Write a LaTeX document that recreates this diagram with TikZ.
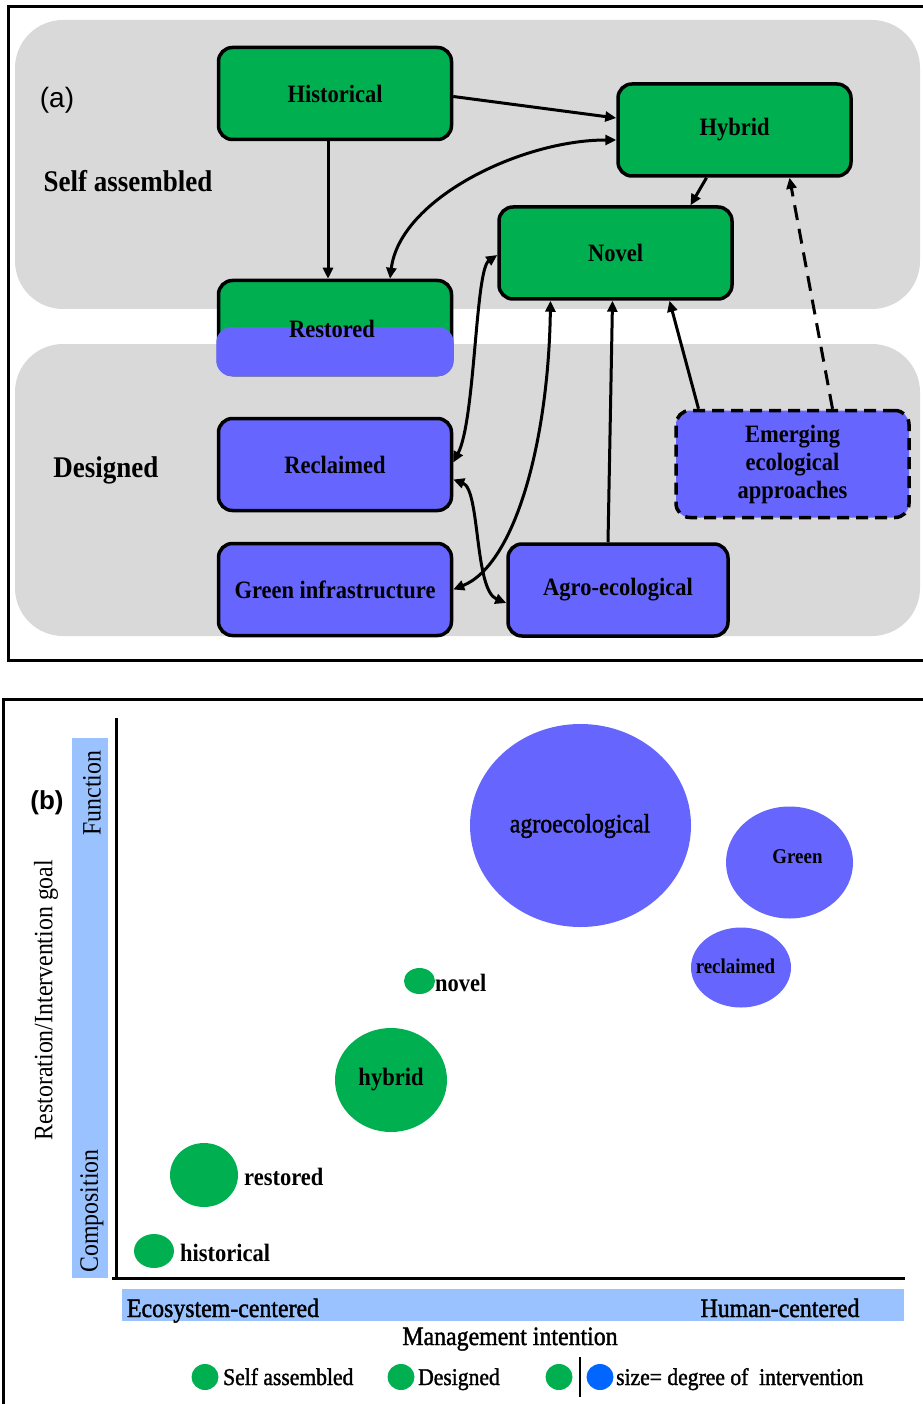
\documentclass[tikz,border=0pt]{standalone}
\usepackage{fontspec}
\setmainfont{Liberation Serif}[FakeStretch=0.9]
\newfontfamily\heavyserif{Liberation Serif}[FakeStretch=0.9, FakeBold=1.5]
\newfontfamily\panelsans{Liberation Sans}
\usetikzlibrary{arrows.meta,calc,shapes.geometric}

\definecolor{boxgreen}{HTML}{00B050}
\definecolor{boxblue}{HTML}{6666FF}
\definecolor{bandgray}{HTML}{D9D9D9}
\definecolor{axisblue}{HTML}{99C2FF}
\definecolor{keyblue}{HTML}{0066FF}

\begin{document}
\begin{tikzpicture}[x=1pt,y=-1pt,
  stagebox/.style={draw=black, line width=3.5pt, rounded corners=14pt,
    minimum width=233pt, minimum height=92pt, inner sep=0pt, align=center,
    font=\fontsize{25}{28}\selectfont\bfseries},
  greenbox/.style={stagebox, fill=boxgreen},
  bluebox/.style={stagebox, fill=boxblue},
  tip/.tip={Triangle[length=11pt,width=10pt]},
  link/.style={line width=3pt, -tip},
  twoway/.style={line width=3pt, tip-tip},
  sidelabel/.style={font=\fontsize{30}{34}\selectfont\bfseries},
  bubble/.style={ellipse, inner sep=0pt, draw=none},
  bubbletext/.style={font=\fontsize{25}{28}\selectfont\bfseries, inner sep=0pt},
  axistext/.style={font=\fontsize{26.5}{30}\selectfont, inner sep=0pt},
  scaletext/.style={font=\heavyserif\fontsize{26.5}{30}\selectfont, inner sep=0pt, anchor=base},
  keytext/.style={font=\heavyserif\fontsize{24}{28}\selectfont, inner sep=0pt, anchor=base west},
]
\useasboundingbox (0,0) rectangle (922,1404);

% ---------- panel (a): frame and background bands ----------
\draw[line width=3pt] (8,7) rectangle (940,660);
\fill[bandgray, rounded corners=48pt] (15,20) rectangle (920,309);
\fill[bandgray, rounded corners=48pt] (15,344) rectangle (920,636);

\node[font=\panelsans\fontsize{28}{31}\selectfont] (alabel) at (57,100) {(a)};
\node[sidelabel] (selflabel) at (128,181) {Self assembled};
\node[sidelabel] (designlabel) at (106,470) {Designed};

% ---------- panel (a): stages ----------
\node[greenbox] (historical) at (335,93.5) {Historical};
\node[greenbox] (hybrid) at (734.5,130) {Hybrid};
\node[greenbox] (novel) at (615.5,253) {Novel};
\node[greenbox, minimum height=94pt] (restored) at (335,327.5) {};
\fill[boxblue, rounded corners=15.75pt] (216.25,327) rectangle (453.75,376.25);
\node[font=\fontsize{25}{28}\selectfont\bfseries, inner sep=0pt] (restoredtext) at (332,329) {Restored};
\node[bluebox] (reclaimed) at (335,464.5) {Reclaimed};
\node[bluebox] (greeninfra) at (335,589.5) {Green infrastructure};
\node[bluebox, minimum width=220pt] (agro) at (618,590) {Agro-ecological};
\node[bluebox, minimum height=107pt, dash pattern=on 12pt off 7pt,
      line width=3.5pt, font=\fontsize{25}{28}\selectfont\bfseries]
      (emerging) at (792.5,464) {Emerging\\ecological\\approaches};

% ---------- panel (a): connectors ----------
\draw[link] ($(historical.south)+(-7,0)$) -- ($(restored.north)+(-7,0)$);
\draw[link] ($(historical.east)+(0,3)$) -- ($(hybrid.west)+(0,-12)$);
\draw[twoway] ($(hybrid.west)+(0,10)$) .. controls +(-95,0) and +(10,-80) .. ($(restored.north)+(55,0)$);
\draw[link] ($(hybrid.south)+(-28,0)$) -- ($(novel.north)+(75,0)$);
\draw[twoway] ($(novel.west)+(0,2)$) .. controls +(-22,15) and +(22,-42) .. ($(reclaimed.east)+(0,-2)$);
\draw[twoway] ($(reclaimed.east)+(0,15)$) .. controls +(27,10) and +(-32,-13) .. ($(agro.west)+(0,13)$);
\draw[twoway] (greeninfra.east) .. controls +(62,-25) and +(-2,140) .. ($(novel.south)+(-65,0)$);
\draw[link] ($(agro.north)+(-10,0)$) -- ($(novel.south)+(-3,0)$);
\draw[link] ($(emerging.north)+(-94,0)$) -- ($(novel.south)+(54,0)$);
\draw[link, dash pattern=on 15pt off 9pt] ($(emerging.north)+(40,0)$) -- ($(hybrid.south)+(55,0)$);

% ---------- panel (b): frame, axes and scales ----------
\draw[line width=3pt] (3,699) rectangle (940,1420);
\fill[axisblue] (72,738) rectangle (108,1278);
\fill[axisblue] (122,1289) rectangle (904,1321);
\draw[line width=3pt] (116,718) -- (116,1278);
\draw[line width=3pt] (112,1278) -- (905,1278);

\node[font=\panelsans\bfseries\fontsize{26}{30}\selectfont] (blabel) at (47,803) {(b)};
\node[axistext, rotate=90] (function) at (92,793) {Function};
\node[axistext, rotate=90] (composition) at (92,1211) {Composition};
\node[axistext, rotate=90] (goal) at (46,1000) {Restoration/Intervention goal};
\node[scaletext] (ecocentered) at (223,1317) {Ecosystem-centered};
\node[scaletext] (humancentered) at (780,1317) {Human-centered};
\node[scaletext] (intention) at (510,1345) {Management intention};

% ---------- panel (b): bubbles ----------
\node[bubble, fill=boxblue, minimum width=221pt, minimum height=203pt] (bagro) at (580.5,825.5) {};
\node[bubbletext, font=\heavyserif\fontsize{26.5}{30}\selectfont] (bagrotext) at (580,826) {agroecological};
\node[bubble, fill=boxblue, minimum width=127pt, minimum height=112pt] (bgreen) at (789.5,862.5) {};
\node[bubbletext, font=\fontsize{21}{24}\selectfont\bfseries] (bgreentext) at (797.5,857) {Green};
\node[bubble, fill=boxblue, minimum width=100pt, minimum height=80pt] (breclaimed) at (741,967.5) {};
\node[bubbletext, font=\fontsize{21}{24}\selectfont\bfseries] (breclaimedtext) at (735.5,966) {reclaimed};
\node[bubble, fill=boxgreen, minimum width=31pt, minimum height=26pt] (bnovel) at (419.5,981) {};
\node[bubbletext, anchor=west] (bnoveltext) at (435,983) {novel};
\node[bubble, fill=boxgreen, minimum width=112pt, minimum height=104pt] (bhybrid) at (391,1080) {};
\node[bubbletext] (bhybridtext) at (391,1080) {hybrid};
\node[bubble, fill=boxgreen, minimum width=68pt, minimum height=64pt] (brestored) at (204,1175) {};
\node[bubbletext, anchor=west] (brestoredtext) at (244,1177) {restored};
\node[bubble, fill=boxgreen, minimum width=40pt, minimum height=34pt] (bhistorical) at (154,1251) {};
\node[bubbletext, anchor=west] (bhistoricaltext) at (180,1253) {historical};

% ---------- panel (b): key ----------
\node[bubble, fill=boxgreen, minimum width=27pt, minimum height=26pt] (key1) at (205,1377) {};
\node[keytext] (key1text) at (223,1385) {Self assembled};
\node[bubble, fill=boxgreen, minimum width=27pt, minimum height=26pt] (key2) at (401,1377) {};
\node[keytext] (key2text) at (418,1385) {Designed};
\node[bubble, fill=boxgreen, minimum width=27pt, minimum height=26pt] (key3) at (559,1377) {};
\coordinate (keybartop) at (580,1357);
\coordinate (keybarbottom) at (580,1397);
\draw[line width=2.5pt] (keybartop) -- (keybarbottom);
\node[bubble, fill=keyblue, minimum width=27pt, minimum height=26pt] (key4) at (600,1377) {};
\node[keytext] (key4text) at (616,1385) {size= degree of\ \ intervention};
\end{tikzpicture}
\end{document}
